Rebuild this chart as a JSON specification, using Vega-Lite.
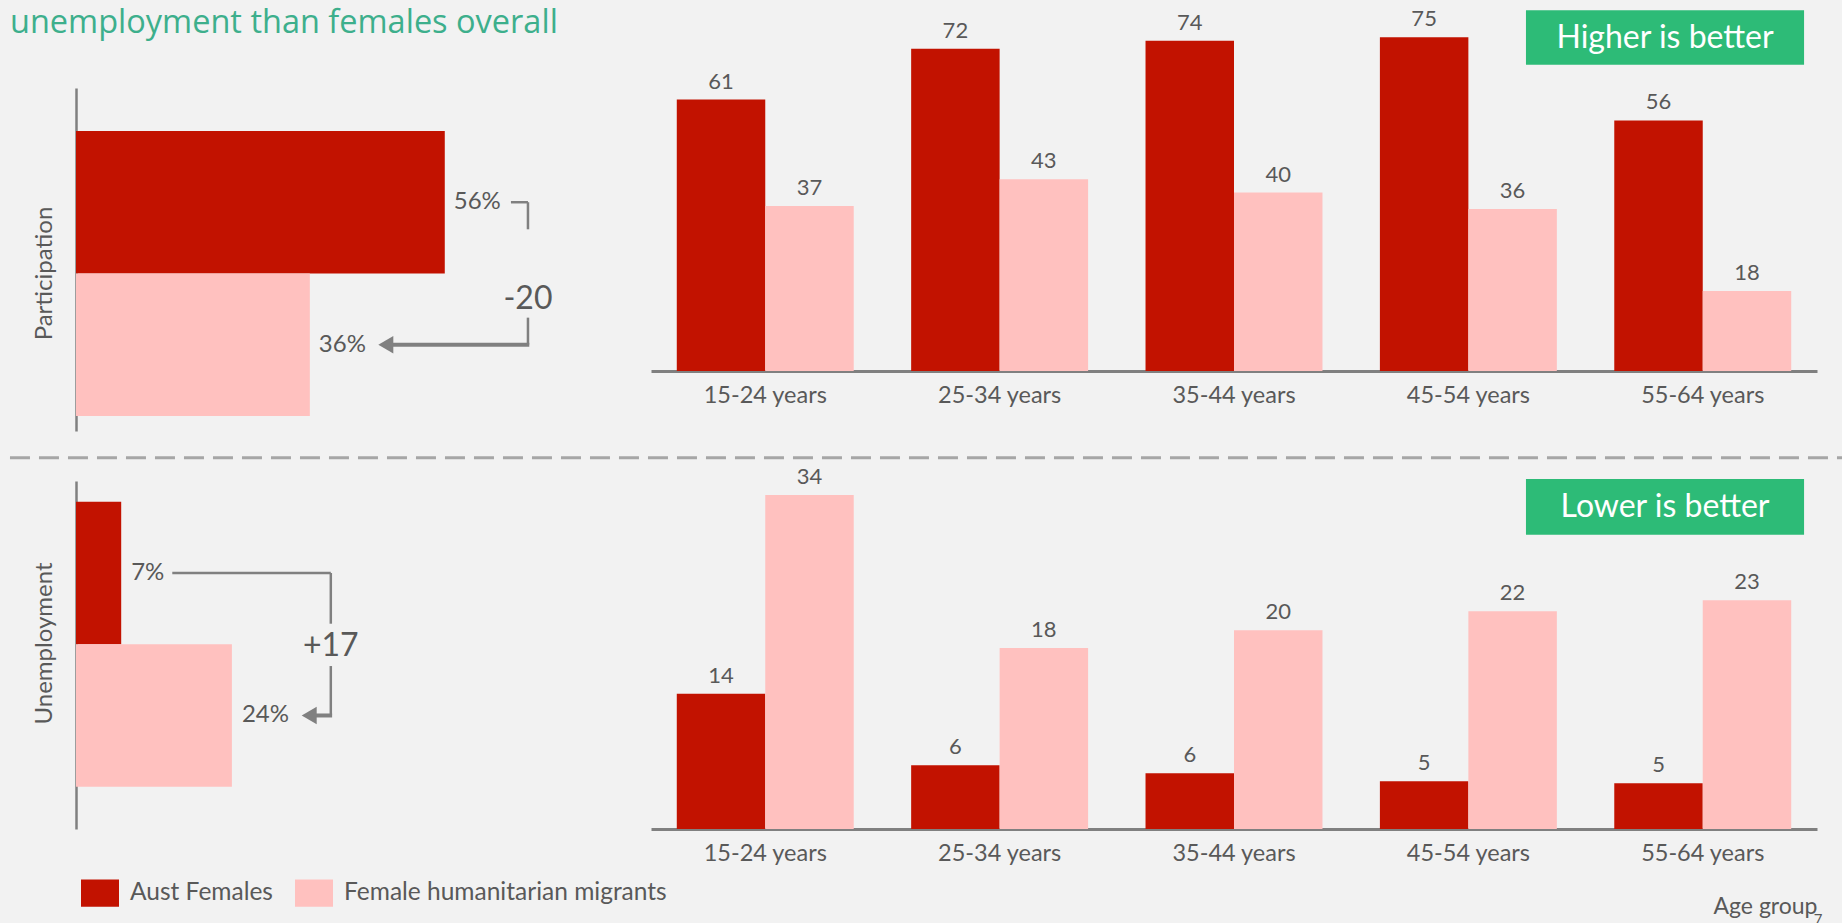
{
  "$schema": "https://vega.github.io/schema/vega-lite/v6.json",
  "background": "#f2f2f2",
  "padding": {"left": 8, "top": 6, "right": 0, "bottom": 0},
  "datasets": {
    "byAge": [
      {"metric": "Participation", "age": "15-24 years", "group": "Aust Females", "value": 61.0},
      {"metric": "Participation", "age": "15-24 years", "group": "Female humanitarian migrants", "value": 37.1},
      {"metric": "Participation", "age": "25-34 years", "group": "Aust Females", "value": 72.4},
      {"metric": "Participation", "age": "25-34 years", "group": "Female humanitarian migrants", "value": 43.1},
      {"metric": "Participation", "age": "35-44 years", "group": "Aust Females", "value": 74.2},
      {"metric": "Participation", "age": "35-44 years", "group": "Female humanitarian migrants", "value": 40.1},
      {"metric": "Participation", "age": "45-54 years", "group": "Aust Females", "value": 75.0},
      {"metric": "Participation", "age": "45-54 years", "group": "Female humanitarian migrants", "value": 36.4},
      {"metric": "Participation", "age": "55-64 years", "group": "Aust Females", "value": 56.3},
      {"metric": "Participation", "age": "55-64 years", "group": "Female humanitarian migrants", "value": 18.0},
      {"metric": "Unemployment", "age": "15-24 years", "group": "Aust Females", "value": 13.6},
      {"metric": "Unemployment", "age": "15-24 years", "group": "Female humanitarian migrants", "value": 33.6},
      {"metric": "Unemployment", "age": "25-34 years", "group": "Aust Females", "value": 6.4},
      {"metric": "Unemployment", "age": "25-34 years", "group": "Female humanitarian migrants", "value": 18.2},
      {"metric": "Unemployment", "age": "35-44 years", "group": "Aust Females", "value": 5.6},
      {"metric": "Unemployment", "age": "35-44 years", "group": "Female humanitarian migrants", "value": 20.0},
      {"metric": "Unemployment", "age": "45-54 years", "group": "Aust Females", "value": 4.8},
      {"metric": "Unemployment", "age": "45-54 years", "group": "Female humanitarian migrants", "value": 21.9},
      {"metric": "Unemployment", "age": "55-64 years", "group": "Aust Females", "value": 4.6},
      {"metric": "Unemployment", "age": "55-64 years", "group": "Female humanitarian migrants", "value": 23.0}
    ],
    "overall": [
      {"metric": "Participation", "group": "Aust Females", "value": 0.563},
      {"metric": "Participation", "group": "Female humanitarian migrants", "value": 0.357},
      {"metric": "Unemployment", "group": "Aust Females", "value": 0.069},
      {"metric": "Unemployment", "group": "Female humanitarian migrants", "value": 0.238}
    ]
  },
  "columns": 2,
  "spacing": {"row": 50, "column": 95},
  "bounds": "flush",
  "concat": [
    {
      "width": 480, "height": 343,
      "layer": [
        {
          "data": {"name": "overall"},
          "transform": [{"filter": "datum.metric === 'Participation'"}],
          "mark": {"type": "bar"},
          "encoding": {
            "y": {"field": "group", "type": "nominal", "sort": null,
              "scale": {"domain": ["Aust Females", "Female humanitarian migrants"], "paddingInner": 0, "paddingOuter": 0.2035, "align": 0.741},
              "axis": {"title": "Participation", "labels": false, "ticks": false, "domain": true, "domainColor": "#808080", "domainWidth": 2.5, "titleFontSize": 24, "titleFontWeight": "normal", "titleColor": "#595959", "titlePadding": 20, "titleY": 185}},
            "x": {"field": "value", "type": "quantitative", "scale": {"domain": [0, 0.7328], "nice": false}, "axis": null},
            "color": {"field": "group", "type": "nominal",
              "scale": {"domain": ["Aust Females", "Female humanitarian migrants"], "range": ["#c21200", "#ffc1bf"]},
              "legend": {"title": null, "orient": "none", "legendX": 5, "legendY": 786, "direction": "horizontal", "symbolType": "M-1,-0.72H1V0.72H-1Z", "symbolSize": 1444, "symbolStrokeWidth": 0, "symbolOpacity": 1, "labelFontSize": 24.5, "labelColor": "#595959", "labelFont": "Lato", "labelOffset": 11, "columnPadding": 22, "padding": 0, "labelLimit": 600}}
          }
        },
        {
          "data": {"values": [{"label": "unemployment than females overall"}]},
          "mark": {"type": "text", "align": "left", "baseline": "alphabetic", "font": "Open Sans", "fontSize": 32.5, "color": "#3daf8c"},
          "encoding": {
            "x": {"datum": -0.1008, "type": "quantitative"},
            "y": {"datum": "Aust Females", "type": "nominal", "bandPosition": -0.688},
            "text": {"field": "label"}
          }
        },
        {
          "data": {"name": "overall"},
          "transform": [{"filter": "datum.metric === 'Participation'"}],
          "mark": {"type": "text", "align": "left", "baseline": "middle", "dx": 9, "fontSize": 24, "color": "#595959"},
          "encoding": {
            "y": {"field": "group", "type": "nominal"},
            "x": {"field": "value", "type": "quantitative"},
            "text": {"field": "value", "type": "quantitative", "format": ".0%"}
          }
        },
        {
          "data": {"values": [{}]},
          "mark": {"type": "rule", "color": "#808080", "strokeWidth": 2.5},
          "encoding": {
            "x": {"datum": 0.664, "type": "quantitative"},
            "x2": {"datum": 0.690},
            "y": {"datum": "Aust Females", "type": "nominal"}
          }
        },
        {
          "data": {"values": [{}]},
          "mark": {"type": "rule", "color": "#808080", "strokeWidth": 2.5},
          "encoding": {
            "x": {"datum": 0.690, "type": "quantitative"},
            "y": {"datum": "Aust Females", "type": "nominal", "bandPosition": 0.5},
            "y2": {"datum": "Aust Females", "bandPosition": 0.69}
          }
        },
        {
          "data": {"values": [{"label": "-20"}]},
          "mark": {"type": "text", "align": "center", "baseline": "middle", "fontSize": 32, "color": "#595959"},
          "encoding": {
            "x": {"datum": 0.690, "type": "quantitative"},
            "y": {"datum": "Female humanitarian migrants", "type": "nominal", "bandPosition": 0.18},
            "text": {"field": "label"}
          }
        },
        {
          "data": {"values": [{}]},
          "mark": {"type": "rule", "color": "#808080", "strokeWidth": 2.5},
          "encoding": {
            "x": {"datum": 0.690, "type": "quantitative"},
            "y": {"datum": "Female humanitarian migrants", "type": "nominal", "bandPosition": 0.31},
            "y2": {"datum": "Female humanitarian migrants", "bandPosition": 0.5}
          }
        },
        {
          "data": {"values": [{}]},
          "mark": {"type": "rule", "color": "#808080", "strokeWidth": 4},
          "encoding": {
            "x": {"datum": 0.692, "type": "quantitative"},
            "x2": {"datum": 0.47},
            "y": {"datum": "Female humanitarian migrants", "type": "nominal"}
          }
        },
        {
          "data": {"values": [{}]},
          "mark": {"type": "point", "shape": "triangle-left", "filled": true, "color": "#808080", "size": 300, "opacity": 1},
          "encoding": {
            "x": {"datum": 0.473, "type": "quantitative"},
            "y": {"datum": "Female humanitarian migrants", "type": "nominal"}
          }
        }
      ]
    },
    {
      "width": 1166, "height": 283,
      "resolve": {"scale": {"x": "independent"}},
      "layer": [
        {
          "data": {"name": "byAge"},
          "transform": [{"filter": "datum.metric === 'Participation'"}],
          "encoding": {
            "x": {"field": "age", "type": "nominal", "sort": null, "scale": {"paddingInner": 0.245, "paddingOuter": 0.11},
              "axis": {"title": null, "labelAngle": 0, "ticks": false, "domainColor": "#808080", "domainWidth": 3, "labelFontSize": 23.5, "labelColor": "#595959", "labelPadding": 12}},
            "xOffset": {"field": "group", "type": "nominal", "sort": null, "scale": {"domain": ["Aust Females", "Female humanitarian migrants"], "paddingInner": 0}},
            "y": {"field": "value", "type": "quantitative", "scale": {"domain": [0, 63.6], "nice": false}, "axis": null}
          },
          "layer": [
            {"mark": {"type": "bar"}, "encoding": {"color": {"field": "group", "type": "nominal"}}},
            {"mark": {"type": "text", "baseline": "bottom", "dy": -6, "fontSize": 22, "color": "#595959"},
              "encoding": {"text": {"field": "value", "type": "quantitative", "format": ".0f"}}}
          ]
        },
        {
          "data": {"values": [{"label": "Higher is better"}]},
          "layer": [
            {
              "mark": {"type": "rect", "color": "#2dbb77"},
              "encoding": {
                "x": {"datum": 0.7504, "type": "quantitative", "scale": {"domain": [0, 1], "nice": false}, "axis": null},
                "x2": {"datum": 0.9889},
                "y": {"datum": 81.1, "type": "quantitative"},
                "y2": {"datum": 68.8}
              }
            },
            {
              "mark": {"type": "text", "align": "center", "baseline": "middle", "fontSize": 32, "color": "#ffffff"},
              "encoding": {
                "x": {"datum": 0.8697, "type": "quantitative"},
                "y": {"datum": 74.9, "type": "quantitative"},
                "text": {"field": "label"}
              }
            }
          ]
        }
      ]
    },
    {
      "width": 480, "height": 348,
      "layer": [
        {
          "data": {"name": "overall"},
          "transform": [{"filter": "datum.metric === 'Unemployment'"}],
          "mark": {"type": "bar"},
          "encoding": {
            "y": {"field": "group", "type": "nominal", "sort": null,
              "scale": {"domain": ["Aust Females", "Female humanitarian migrants"], "paddingInner": 0, "paddingOuter": 0.221, "align": 0.329},
              "axis": {"title": "Unemployment", "labels": false, "ticks": false, "domain": true, "domainColor": "#808080", "domainWidth": 2.5, "titleFontSize": 24, "titleFontWeight": "normal", "titleColor": "#595959", "titlePadding": 20, "titleY": 162}},
            "x": {"field": "value", "type": "quantitative", "scale": {"domain": [0, 0.7328], "nice": false}, "axis": null},
            "color": {"field": "group", "type": "nominal"}
          }
        },
        {
          "data": {"values": [{}]},
          "mark": {"type": "rule", "color": "#a6a6a6", "strokeWidth": 3, "strokeDash": [20, 9]},
          "encoding": {
            "x": {"datum": -0.1008, "type": "quantitative"},
            "x2": {"datum": 2.699},
            "y": {"datum": "Aust Females", "type": "nominal", "bandPosition": -0.309}
          }
        },
        {
          "data": {"name": "overall"},
          "transform": [{"filter": "datum.metric === 'Unemployment'"}],
          "mark": {"type": "text", "align": "left", "baseline": "middle", "dx": 10, "fontSize": 24, "color": "#595959"},
          "encoding": {
            "y": {"field": "group", "type": "nominal"},
            "x": {"field": "value", "type": "quantitative"},
            "text": {"field": "value", "type": "quantitative", "format": ".0%"}
          }
        },
        {
          "data": {"values": [{}]},
          "mark": {"type": "rule", "color": "#808080", "strokeWidth": 2.5},
          "encoding": {
            "x": {"datum": 0.147, "type": "quantitative"},
            "x2": {"datum": 0.389},
            "y": {"datum": "Aust Females", "type": "nominal"}
          }
        },
        {
          "data": {"values": [{}]},
          "mark": {"type": "rule", "color": "#808080", "strokeWidth": 2.5},
          "encoding": {
            "x": {"datum": 0.389, "type": "quantitative"},
            "y": {"datum": "Aust Females", "type": "nominal", "bandPosition": 0.5},
            "y2": {"datum": "Aust Females", "bandPosition": 0.856}
          }
        },
        {
          "data": {"values": [{"label": "+17"}]},
          "mark": {"type": "text", "align": "center", "baseline": "middle", "fontSize": 32, "color": "#595959"},
          "encoding": {
            "x": {"datum": 0.389, "type": "quantitative"},
            "y": {"datum": "Female humanitarian migrants", "type": "nominal", "bandPosition": 0.01},
            "text": {"field": "label"}
          }
        },
        {
          "data": {"values": [{}]},
          "mark": {"type": "rule", "color": "#808080", "strokeWidth": 2.5},
          "encoding": {
            "x": {"datum": 0.389, "type": "quantitative"},
            "y": {"datum": "Female humanitarian migrants", "type": "nominal", "bandPosition": 0.153},
            "y2": {"datum": "Female humanitarian migrants", "bandPosition": 0.5}
          }
        },
        {
          "data": {"values": [{}]},
          "mark": {"type": "rule", "color": "#808080", "strokeWidth": 4},
          "encoding": {
            "x": {"datum": 0.391, "type": "quantitative"},
            "x2": {"datum": 0.36},
            "y": {"datum": "Female humanitarian migrants", "type": "nominal"}
          }
        },
        {
          "data": {"values": [{}]},
          "mark": {"type": "point", "shape": "triangle-left", "filled": true, "color": "#808080", "size": 300, "opacity": 1},
          "encoding": {
            "x": {"datum": 0.356, "type": "quantitative"},
            "y": {"datum": "Female humanitarian migrants", "type": "nominal"}
          }
        }
      ]
    },
    {
      "width": 1166, "height": 348,
      "resolve": {"scale": {"x": "independent"}},
      "layer": [
        {
          "data": {"name": "byAge"},
          "transform": [{"filter": "datum.metric === 'Unemployment'"}],
          "encoding": {
            "x": {"field": "age", "type": "nominal", "sort": null, "scale": {"paddingInner": 0.245, "paddingOuter": 0.11},
              "axis": {"title": "Age group", "titleAnchor": "end", "titleFontSize": 23, "titleFontWeight": "normal", "titleColor": "#595959", "titlePadding": 31, "labelAngle": 0, "ticks": false, "domainColor": "#808080", "domainWidth": 3, "labelFontSize": 23.5, "labelColor": "#595959", "labelPadding": 12}},
            "xOffset": {"field": "group", "type": "nominal", "sort": null, "scale": {"domain": ["Aust Females", "Female humanitarian migrants"], "paddingInner": 0}},
            "y": {"field": "value", "type": "quantitative", "scale": {"domain": [0, 35], "nice": false}, "axis": null}
          },
          "layer": [
            {"mark": {"type": "bar"}, "encoding": {"color": {"field": "group", "type": "nominal"}}},
            {"mark": {"type": "text", "baseline": "bottom", "dy": -6, "fontSize": 22, "color": "#595959"},
              "encoding": {"text": {"field": "value", "type": "quantitative", "format": ".0f"}}}
          ]
        },
        {
          "data": {"values": [{"label": "Lower is better", "page": "7"}]},
          "layer": [
            {
              "mark": {"type": "rect", "color": "#2dbb77"},
              "encoding": {
                "x": {"datum": 0.7504, "type": "quantitative", "scale": {"domain": [0, 1], "nice": false}, "axis": null},
                "x2": {"datum": 0.9889},
                "y": {"datum": 35.2, "type": "quantitative"},
                "y2": {"datum": 29.6}
              }
            },
            {
              "mark": {"type": "text", "align": "center", "baseline": "middle", "fontSize": 32, "color": "#ffffff"},
              "encoding": {
                "x": {"datum": 0.8697, "type": "quantitative"},
                "y": {"datum": 32.4, "type": "quantitative"},
                "text": {"field": "label"}
              }
            },
            {
              "mark": {"type": "text", "align": "center", "baseline": "top", "fontSize": 15, "color": "#595959"},
              "encoding": {
                "x": {"datum": 1.001, "type": "quantitative"},
                "y": {"datum": -8.44, "type": "quantitative"},
                "text": {"field": "page"}
              }
            }
          ]
        }
      ]
    }
  ],
  "config": {
    "font": "Lato",
    "view": {"stroke": null},
    "axis": {"labelFont": "Lato", "titleFont": "Lato", "grid": false},
    "text": {"font": "Lato"}
  }
}
